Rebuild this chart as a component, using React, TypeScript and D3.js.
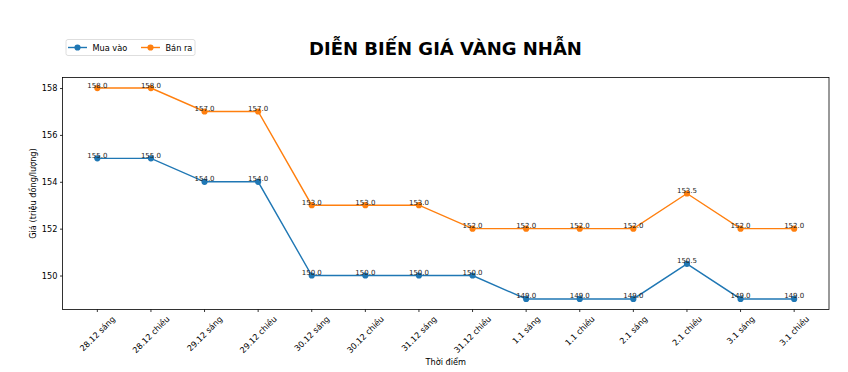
import React, { useEffect, useRef } from 'react';
import * as d3 from 'd3';

const categories = [
  '28.12 sáng', '28.12 chiều', '29.12 sáng', '29.12 chiều', '30.12 sáng', '30.12 chiều', '31.12 sáng',
  '31.12 chiều', '1.1 sáng', '1.1 chiều', '2.1 sáng', '2.1 chiều', '3.1 sáng', '3.1 chiều',
];
const muaVao = [155, 155, 154, 154, 150, 150, 150, 150, 149, 149, 149, 150.5, 149, 149];
const banRa = [158, 158, 157, 157, 153, 153, 153, 152, 152, 152, 152, 153.5, 152, 152];
const yTicks = [150, 152, 154, 156, 158];

const seriesList = [
  { name: 'Mua vào', values: muaVao, color: '#1f77b4' },
  { name: 'Bán ra', values: banRa, color: '#ff7f0e' },
];

const App: React.FC = () => {
  const svgRef = useRef<SVGSVGElement | null>(null);

  useEffect(() => {
    if (!svgRef.current) return;
    const width = 848;
    const height = 372;
    const margin = { top: 77.5, right: 19, bottom: 62.5, left: 62.5 };
    const font = 'DejaVu Sans, sans-serif';
    const fs = 8.2;

    const svg = d3.select(svgRef.current);
    svg.selectAll('*').remove();
    svg.attr('width', width).attr('height', height);

    svg.append('rect').attr('width', width).attr('height', height).attr('fill', '#fff');

    const n = categories.length;
    const x = d3.scaleLinear()
      .domain([-0.65, n - 1 + 0.65])
      .range([margin.left, width - margin.right]);

    const y = d3.scaleLinear()
      .domain([148.55, 158.45])
      .range([height - margin.bottom, margin.top]);

    const chart = svg.append('g');

    // Lines and markers
    seriesList.forEach(s => {
      const line = d3.line<number>()
        .x((_, i) => x(i))
        .y(d => y(d));
      chart.append('path')
        .datum(s.values)
        .attr('fill', 'none')
        .attr('stroke', s.color)
        .attr('stroke-width', 1.4)
        .attr('d', line);
      chart.selectAll(null)
        .data(s.values)
        .enter()
        .append('circle')
        .attr('cx', (_, i) => x(i))
        .attr('cy', d => y(d))
        .attr('r', 3.1)
        .attr('fill', s.color);
      chart.selectAll(null)
        .data(s.values)
        .enter()
        .append('text')
        .attr('x', (_, i) => x(i))
        .attr('y', d => y(d) - 0.5)
        .attr('text-anchor', 'middle')
        .attr('font-family', font)
        .attr('font-size', 7)
        .attr('fill', '#222')
        .text(d => d.toFixed(1));
    });

    // Frame
    chart.append('rect')
      .attr('x', margin.left)
      .attr('y', margin.top)
      .attr('width', width - margin.left - margin.right)
      .attr('height', height - margin.top - margin.bottom)
      .attr('fill', 'none')
      .attr('stroke', '#000')
      .attr('stroke-width', 0.8);

    // Y axis
    const yAxis = chart.append('g')
      .attr('transform', `translate(${margin.left}, 0)`)
      .call(d3.axisLeft(y).tickValues(yTicks).tickSize(2.5).tickPadding(2.5).tickFormat(d => String(d)));
    yAxis.select('.domain').remove();
    yAxis.selectAll('line').attr('stroke', '#000').attr('stroke-width', 0.8);
    yAxis.selectAll('text').attr('font-family', font).attr('font-size', fs).attr('fill', '#000');

    // X axis ticks
    const bottom = height - margin.bottom;
    chart.selectAll(null)
      .data(categories)
      .enter()
      .append('line')
      .attr('x1', (_, i) => x(i))
      .attr('x2', (_, i) => x(i))
      .attr('y1', bottom)
      .attr('y2', bottom + 2.5)
      .attr('stroke', '#000')
      .attr('stroke-width', 0.8);

    // X tick labels, rotated 45 with bbox centered on tick
    const labels = chart.selectAll<SVGTextElement, string>(null)
      .data(categories)
      .enter()
      .append('text')
      .attr('font-family', font)
      .attr('font-size', fs)
      .attr('fill', '#000')
      .attr('text-anchor', 'middle')
      .attr('dominant-baseline', 'central')
      .text(d => d);
    labels.each(function (_, i) {
      const L = this.getComputedTextLength();
      const h = fs;
      const c = Math.SQRT1_2;
      const cy = bottom + 5 + (L * c + h * c) / 2;
      d3.select(this)
        .attr('x', x(i))
        .attr('y', cy)
        .attr('transform', `rotate(-45, ${x(i)}, ${cy})`);
    });

    // Axis labels
    chart.append('text')
      .attr('x', (margin.left + width - margin.right) / 2)
      .attr('y', 365)
      .attr('text-anchor', 'middle')
      .attr('font-family', font)
      .attr('font-size', fs)
      .text('Thời điểm');

    chart.append('text')
      .attr('transform', `translate(36, ${(margin.top + bottom) / 2}) rotate(-90)`)
      .attr('text-anchor', 'middle')
      .attr('font-family', font)
      .attr('font-size', fs)
      .text('Giá (triệu đồng/lượng)');

    // Title
    svg.append('text')
      .attr('x', 445.5)
      .attr('y', 54.5)
      .attr('text-anchor', 'middle')
      .attr('font-family', font)
      .attr('font-weight', 'bold')
      .attr('font-size', 18)
      .attr('fill', '#000')
      .text('DIỄN BIẾN GIÁ VÀNG NHẪN');

    // Legend
    const legend = svg.append('g');
    legend.append('rect')
      .attr('x', 66)
      .attr('y', 39.5)
      .attr('width', 129)
      .attr('height', 16)
      .attr('rx', 2)
      .attr('fill', '#fff')
      .attr('stroke', '#d6d6d6')
      .attr('stroke-width', 0.8);
    const entryX = [68, 141];
    seriesList.forEach((s, i) => {
      const ex = entryX[i];
      legend.append('line')
        .attr('x1', ex).attr('x2', ex + 19)
        .attr('y1', 47.5).attr('y2', 47.5)
        .attr('stroke', s.color)
        .attr('stroke-width', 1.4);
      legend.append('circle')
        .attr('cx', ex + 9.5).attr('cy', 47.5).attr('r', 3.1).attr('fill', s.color);
      legend.append('text')
        .attr('x', ex + 24.5)
        .attr('y', 50.5)
        .attr('font-family', font)
        .attr('font-size', fs)
        .attr('fill', '#000')
        .text(s.name);
    });
  }, []);

  return (
    <div style={{ position: 'absolute', left: 0, top: 0 }}>
      <svg ref={svgRef} style={{ display: 'block' }} />
    </div>
  );
};

export default App;
